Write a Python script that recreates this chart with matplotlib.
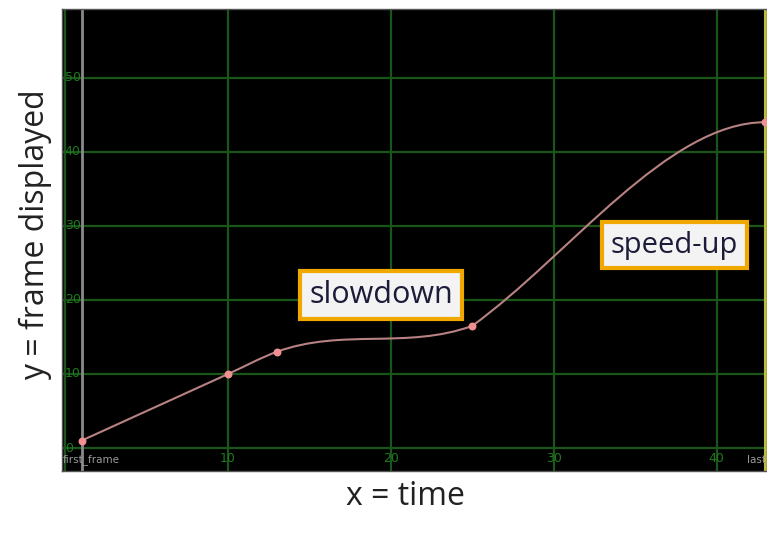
import matplotlib
matplotlib.use("Agg")
import matplotlib.pyplot as plt
from matplotlib.path import Path
from matplotlib.patches import PathPatch

# keyframes of the retime curve (frame -> frame displayed)
key_x = [1, 10, 13, 25, 43]
key_y = [1, 10, 13, 16.5, 44]
# tangent slopes leaving / entering each key
slope_out = [1.0, 1.0, 0.8, 1.6, 0.0]
slope_in = [1.0, 1.0, 0.8, 0.8, 0.0]

x_ticks = [10, 20, 30, 40]
y_ticks = [10, 20, 30, 40, 50]
first_frame = 1
last_frame = 43

plt.rcParams['font.family'] = ['Open Sans', 'DejaVu Sans']

fig = plt.figure(figsize=(7.67, 5.43), dpi=100)
fig.patch.set_facecolor('white')
ax = fig.add_axes([0.0808, 0.1326, 0.9192, 0.851])
ax.set_facecolor('black')
ax.set_xlim(-0.2, 43.1)
ax.set_ylim(-3.1, 59.3)

grid_col = '#1a551a'
ax.axvline(0, color=grid_col, lw=1.6, zorder=1)
for v in x_ticks:
    ax.axvline(v, color=grid_col, lw=1.6, zorder=1)
for v in [0] + y_ticks:
    ax.axhline(v, color=grid_col, lw=1.6, zorder=1)

ax.axvline(first_frame, color='#8a8a8a', lw=2, zorder=2)
ax.axvline(last_frame, color='#bdbd3a', lw=2.2, zorder=2)

# curve as cubic bezier segments between keys
verts = [(key_x[0], key_y[0])]
codes = [Path.MOVETO]
for i in range(len(key_x) - 1):
    dx = (key_x[i + 1] - key_x[i]) / 3.0
    verts.append((key_x[i] + dx, key_y[i] + dx * slope_out[i]))
    verts.append((key_x[i + 1] - dx, key_y[i + 1] - dx * slope_in[i + 1]))
    verts.append((key_x[i + 1], key_y[i + 1]))
    codes += [Path.CURVE4] * 3
ax.add_patch(PathPatch(Path(verts, codes), fill=False, edgecolor='#b88282', lw=1.5, zorder=3))
ax.scatter(key_x, key_y, s=22, color='#f09090', zorder=4, clip_on=False)

tick_col = '#1f7a1f'
xt = ax.get_xaxis_transform()
for v in x_ticks:
    ax.text(v, 0.012, str(v), color=tick_col, fontsize=9, ha='center', va='bottom', transform=xt,
            family='DejaVu Sans')
ax.text(-0.15, 0.012, 'first_frame', color='#9a9a9a', fontsize=7.5, ha='left', va='bottom', transform=xt,
        family='DejaVu Sans')
ax.text(41.9, 0.012, 'last_frame', color='#9a9a9a', fontsize=7.5, ha='left', va='bottom', transform=xt,
        family='DejaVu Sans', clip_on=True)
yt = ax.get_yaxis_transform()
for v in [0] + y_ticks:
    ax.text(0.004, v, str(v), color=tick_col, fontsize=9, ha='left', va='center', transform=yt,
            family='DejaVu Sans')

box = dict(boxstyle='square,pad=0.3', facecolor='#f3f3f3', edgecolor='#f0a800', lw=3)
ax.text(19.4, 20.7, 'slowdown', fontsize=22, color='#1c1c3a', ha='center', va='center', bbox=box, zorder=5)
ax.text(37.4, 27.4, 'speed-up', fontsize=21, color='#1c1c3a', ha='center', va='center', bbox=box, zorder=5)

ax.set_xticks([])
ax.set_yticks([])
for s in ax.spines.values():
    s.set_color('#555555')
    s.set_linewidth(1)

fig.text(0.529, 0.085, 'x = time', fontsize=23, color='#222222', ha='center', va='center')
fig.text(0.046, 0.567, 'y = frame displayed', fontsize=23, color='#222222', ha='center', va='center',
         rotation=90)

fig.savefig('out.png', dpi=100)
